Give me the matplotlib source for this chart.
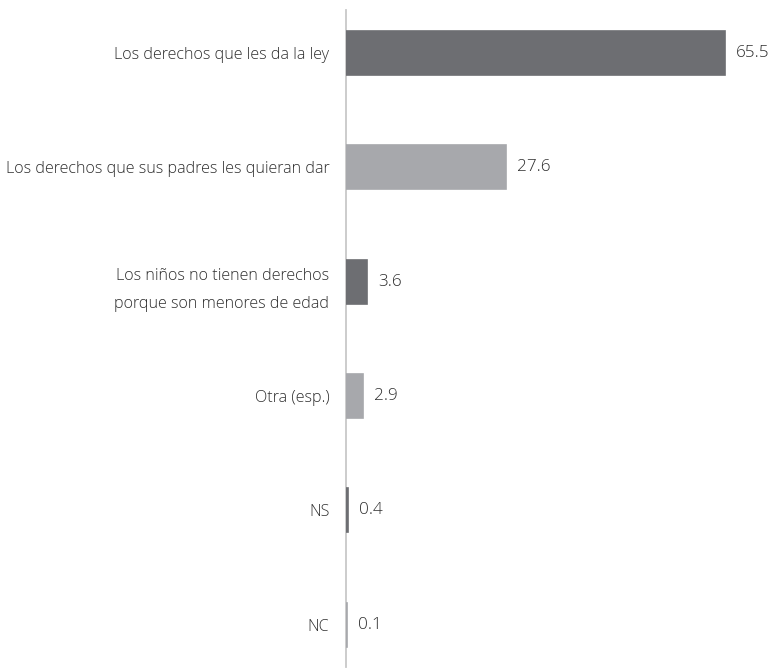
import matplotlib.pyplot as plt

categories = [
    'Los derechos que les da la ley',
    'Los derechos que sus padres les quieran dar',
    'Los niños no tienen derechos\nporque son menores de edad',
    'Otra (esp.)',
    'NS',
    'NC',
]
values = [65.5, 27.6, 3.6, 2.9, 0.4, 0.1]
colors = ['#6d6e72', '#a7a8ac', '#6d6e72', '#a7a8ac', '#6d6e72', '#a7a8ac']

plt.rcParams['font.family'] = ['Open Sans', 'DejaVu Sans']
text_color = '#2e2e2e'

fig = plt.figure(figsize=(7.71, 6.69), dpi=100)
ax = fig.add_axes([0.4488, 0.003, 0.5512, 0.982])

pos = list(range(len(categories)))
bars = ax.barh(pos, values, height=0.385, color=colors,
               edgecolor=colors, linewidth=1.2)

ax.set_xlim(0, 73.5)
ax.set_ylim(5.37, -0.376)

for s in ['top', 'right', 'bottom']:
    ax.spines[s].set_visible(False)
ax.spines['left'].set_color('#c8c8c8')
ax.spines['left'].set_linewidth(1.3)
ax.spines['left'].set_zorder(0)
ax.set_xticks([])
ax.set_yticks(pos)
ax.set_yticklabels(categories, fontsize=11.6, fontweight='light', color=text_color,
                   linespacing=2.0)
ax.tick_params(axis='y', length=0, pad=12)

for bar, v in zip(bars, values):
    ax.annotate(f'{v:.1f}', (bar.get_width(), bar.get_y() + bar.get_height() / 2),
                xytext=(8, 0), textcoords='offset points', ha='left', va='center',
                fontsize=12.3, fontweight='light', color=text_color)

fig.savefig('out.png', dpi=100)
